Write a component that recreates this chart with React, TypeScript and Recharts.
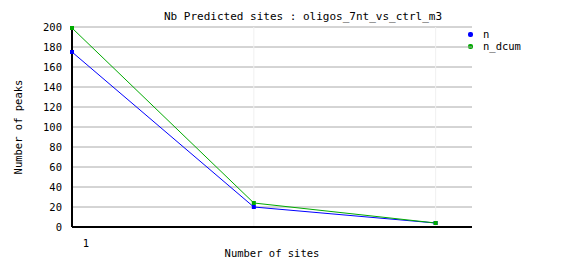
import { LineChart, Line, XAxis, YAxis, CartesianGrid } from "recharts";

const sites = [1, 2, 3];
const nValues = [175, 20, 4];
const nDcumValues = [199, 24, 4];
const yTicks = [0, 20, 40, 60, 80, 100, 120, 140, 160, 180, 200];

const data = sites.map((s, i) => ({ site: s, n: nValues[i], n_dcum: nDcumValues[i] }));

const FONT = "'DejaVu Sans Mono', monospace";

const SquareDot = (color: string) => (props: any) => {
  const { cx, cy, index } = props;
  return <rect key={index} x={cx - 2} y={cy - 2} width={4} height={4} fill={color} />;
};

const XTick = (props: any) => {
  const { x, y, payload } = props;
  return (
    <text x={x + 14} y={y + 12} textAnchor="middle" fontFamily={FONT} fontSize={10.5} fill="#000">
      {payload.value}
    </text>
  );
};

const App = () => {
  return (
    <div style={{ position: "absolute", left: 0, top: 0, width: 562, height: 278, background: "#fff" }}>
      <div
        style={{
          position: "absolute",
          left: 0,
          width: 606,
          top: 10,
          textAlign: "center",
          whiteSpace: "nowrap",
          fontFamily: FONT,
          fontSize: 11,
          lineHeight: "14px",
        }}
      >
        Nb Predicted sites : oligos_7nt_vs_ctrl_m3
      </div>
      <div style={{ position: "absolute", left: 468, top: 28, fontFamily: FONT, fontSize: 10.5, lineHeight: "12px" }}>
        <div style={{ display: "flex", alignItems: "center" }}>
          <span style={{ width: 5, height: 5, background: "#0000ff", borderRadius: 2, marginRight: 10, display: "inline-block" }} />
          n
        </div>
        <div style={{ display: "flex", alignItems: "center" }}>
          <span style={{ width: 5, height: 5, background: "#00aa00", borderRadius: 2, marginRight: 10, display: "inline-block" }} />
          n_dcum
        </div>
      </div>
      <div
        style={{
          position: "absolute",
          left: 172,
          top: 246,
          width: 200,
          textAlign: "center",
          whiteSpace: "nowrap",
          fontFamily: FONT,
          fontSize: 10.5,
          lineHeight: "14px",
        }}
      >
        Number of sites
      </div>
      <div
        style={{
          position: "absolute",
          left: 18 - 60,
          top: 127 - 7,
          width: 120,
          textAlign: "center",
          whiteSpace: "nowrap",
          fontFamily: FONT,
          fontSize: 10.5,
          lineHeight: "14px",
          transform: "rotate(-90deg)",
        }}
      >
        Number of peaks
      </div>
      <LineChart width={562} height={278} data={data} margin={{ top: 27, right: 90, bottom: 0, left: 0 }}>
        <CartesianGrid stroke="#aaaaaa" vertical={false} horizontalValues={yTicks.slice(1)} />
        <CartesianGrid stroke="#f0f0f0" horizontal={false} verticalValues={[2, 3]} />
        <XAxis
          dataKey="site"
          type="number"
          domain={[1, 3.2]}
          ticks={[1]}
          tick={<XTick />}
          tickLine={false}
          axisLine={{ stroke: "#000", strokeWidth: 2 }}
          height={51}
        />
        <YAxis
          width={72}
          domain={[0, 200]}
          ticks={yTicks}
          tickLine={false}
          tickSize={6}
          tickMargin={4}
          interval={0}
          axisLine={{ stroke: "#000", strokeWidth: 2 }}
          tick={{ fontFamily: FONT, fontSize: 10.5, fill: "#000" }}
        />
        <Line type="linear" dataKey="n" stroke="#0000ff" strokeWidth={1} dot={SquareDot("#0000ff")} isAnimationActive={false} />
        <Line type="linear" dataKey="n_dcum" stroke="#00aa00" strokeWidth={1} dot={SquareDot("#00aa00")} isAnimationActive={false} />
      </LineChart>
    </div>
  );
};

export default App;
